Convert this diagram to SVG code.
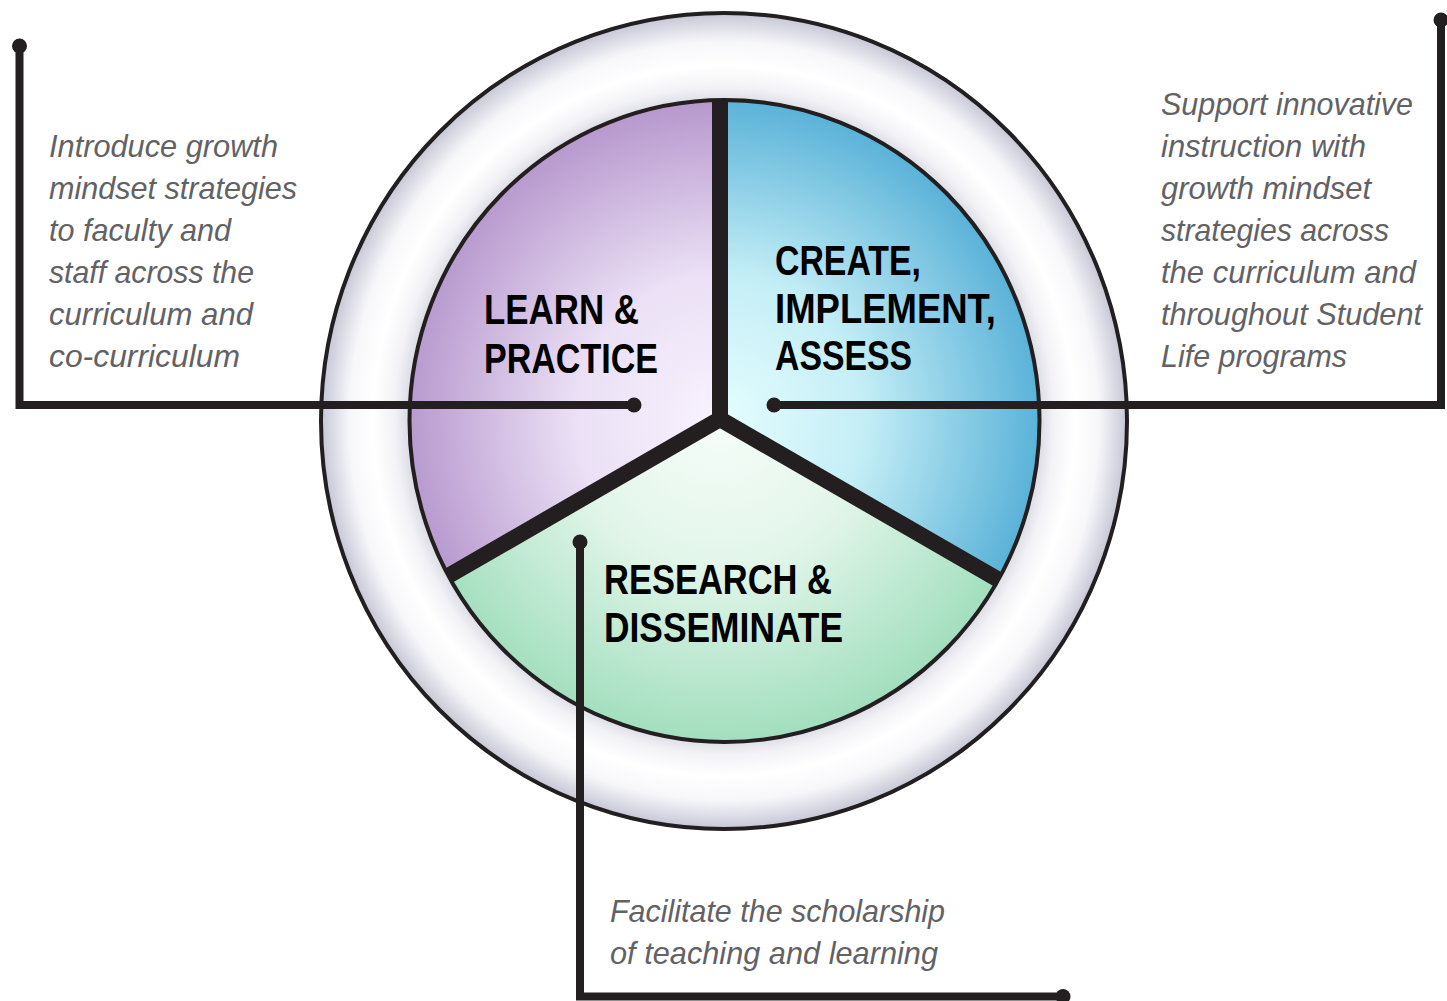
<svg xmlns="http://www.w3.org/2000/svg" width="1447" height="1001" viewBox="0 0 1447 1001">
  <style>
    .rim { fill: none; stroke: #231f20; stroke-width: 4; }
    .divider { fill: none; stroke: #231f20; stroke-width: 16; stroke-linejoin: miter; stroke-miterlimit: 4; }
    .leader { fill: none; stroke: #231f20; stroke-width: 8; stroke-linejoin: miter; }
    .pin { fill: #231f20; }
    .label { font-family: "Liberation Sans", Arial, sans-serif; font-weight: bold; font-size: 43px; fill: #000; }
    .note { font-family: "Liberation Sans", Arial, sans-serif; font-style: italic; font-size: 32px; fill: #626265; }
  </style>
  <defs>
    <radialGradient id="ringFill" cx="0.5" cy="0.5" r="0.5">
      <stop offset="0.77" stop-color="#d3d3de"/>
      <stop offset="0.82" stop-color="#f3f3f7"/>
      <stop offset="0.87" stop-color="#ffffff"/>
      <stop offset="0.93" stop-color="#f7f7fa"/>
      <stop offset="1" stop-color="#c6c7d5"/>
    </radialGradient>
    <radialGradient id="purpleFill" gradientUnits="userSpaceOnUse" cx="720" cy="419" r="320">
      <stop offset="0" stop-color="#f8f2fe"/>
      <stop offset="0.45" stop-color="#ebe0f5"/>
      <stop offset="1" stop-color="#b697cd"/>
    </radialGradient>
    <radialGradient id="blueFill" gradientUnits="userSpaceOnUse" cx="720" cy="419" r="320">
      <stop offset="0" stop-color="#e4fdfe"/>
      <stop offset="0.45" stop-color="#c4eef6"/>
      <stop offset="1" stop-color="#5ab2d8"/>
    </radialGradient>
    <radialGradient id="greenFill" gradientUnits="userSpaceOnUse" cx="720" cy="419" r="320">
      <stop offset="0" stop-color="#f6fdf9"/>
      <stop offset="0.45" stop-color="#e3f6ea"/>
      <stop offset="1" stop-color="#a3dfbf"/>
    </radialGradient>
    <clipPath id="core">
      <ellipse cx="724.5" cy="421" rx="315" ry="321"/>
    </clipPath>
  </defs>

  <!-- outer ring -->
  <g id="ring">
    <ellipse cx="724" cy="421" rx="403" ry="408" fill="url(#ringFill)"/>
    <ellipse class="rim" cx="724" cy="421" rx="403" ry="408"/>
  </g>

  <!-- three sectors of the inner disc -->
  <g clip-path="url(#core)">
    <g id="learn-practice">
      <polygon points="720,419 720,0 200,0 200.4,719" fill="url(#purpleFill)"/>
    </g>
    <g id="create-implement-assess">
      <polygon points="720,419 720,0 1240,0 1239.6,719" fill="url(#blueFill)"/>
    </g>
    <g id="research-disseminate">
      <polygon points="720,419 200.4,719 200,1000 1240,1000 1239.6,719" fill="url(#greenFill)"/>
    </g>
    <g id="dividers">
      <path class="divider" d="M720,0 V419"/>
      <path class="divider" d="M200.4,719 L720,419 L1239.6,719"/>
    </g>
  </g>
  <ellipse class="rim" cx="724.5" cy="421" rx="315" ry="321"/>

  <!-- sector titles -->
  <g id="learn-practice-title">
    <text class="label" x="484" y="324" textLength="155" lengthAdjust="spacingAndGlyphs">LEARN &amp;</text>
    <text class="label" x="484" y="373" textLength="174" lengthAdjust="spacingAndGlyphs">PRACTICE</text>
  </g>
  <g id="create-title">
    <text class="label" x="775" y="275" textLength="146" lengthAdjust="spacingAndGlyphs">CREATE,</text>
    <text class="label" x="775" y="323" textLength="221" lengthAdjust="spacingAndGlyphs">IMPLEMENT,</text>
    <text class="label" x="775" y="370" textLength="137" lengthAdjust="spacingAndGlyphs">ASSESS</text>
  </g>
  <g id="research-title">
    <text class="label" x="604" y="594" textLength="228" lengthAdjust="spacingAndGlyphs">RESEARCH &amp;</text>
    <text class="label" x="604" y="642" textLength="239" lengthAdjust="spacingAndGlyphs">DISSEMINATE</text>
  </g>

  <!-- leader lines -->
  <g id="connectors">
    <polyline class="leader" points="19.5,46 19.5,405 634,405"/>
    <circle class="pin" cx="19.5" cy="46" r="7.5"/>
    <circle class="pin" cx="634" cy="405" r="7.5"/>

    <polyline class="leader" points="1441,20 1441,405 774,405"/>
    <circle class="pin" cx="1441" cy="20" r="7.5"/>
    <circle class="pin" cx="774" cy="405" r="7.5"/>

    <polyline class="leader" points="580,542 580,996.5 1063,996.5"/>
    <circle class="pin" cx="580" cy="542" r="7.5"/>
    <circle class="pin" cx="1063" cy="996.5" r="7.5"/>
  </g>

  <!-- descriptive notes -->
  <g id="note-learn">
    <text class="note" x="49" y="157" textLength="229" lengthAdjust="spacingAndGlyphs">Introduce growth</text>
    <text class="note" x="49" y="199" textLength="248" lengthAdjust="spacingAndGlyphs">mindset strategies</text>
    <text class="note" x="49" y="241" textLength="182" lengthAdjust="spacingAndGlyphs">to faculty and</text>
    <text class="note" x="49" y="283" textLength="205" lengthAdjust="spacingAndGlyphs">staff across the</text>
    <text class="note" x="49" y="325" textLength="204" lengthAdjust="spacingAndGlyphs">curriculum and</text>
    <text class="note" x="49" y="367" textLength="191" lengthAdjust="spacingAndGlyphs">co-curriculum</text>
  </g>
  <g id="note-create">
    <text class="note" x="1161" y="115" textLength="252" lengthAdjust="spacingAndGlyphs">Support innovative</text>
    <text class="note" x="1161" y="157" textLength="205" lengthAdjust="spacingAndGlyphs">instruction with</text>
    <text class="note" x="1161" y="199" textLength="210" lengthAdjust="spacingAndGlyphs">growth mindset</text>
    <text class="note" x="1161" y="241" textLength="228" lengthAdjust="spacingAndGlyphs">strategies across</text>
    <text class="note" x="1161" y="283" textLength="255" lengthAdjust="spacingAndGlyphs">the curriculum and</text>
    <text class="note" x="1161" y="325" textLength="261" lengthAdjust="spacingAndGlyphs">throughout Student</text>
    <text class="note" x="1161" y="367" textLength="186" lengthAdjust="spacingAndGlyphs">Life programs</text>
  </g>
  <g id="note-research">
    <text class="note" x="610" y="922" textLength="335" lengthAdjust="spacingAndGlyphs">Facilitate the scholarship</text>
    <text class="note" x="610" y="964" textLength="328" lengthAdjust="spacingAndGlyphs">of teaching and learning</text>
  </g>
</svg>
